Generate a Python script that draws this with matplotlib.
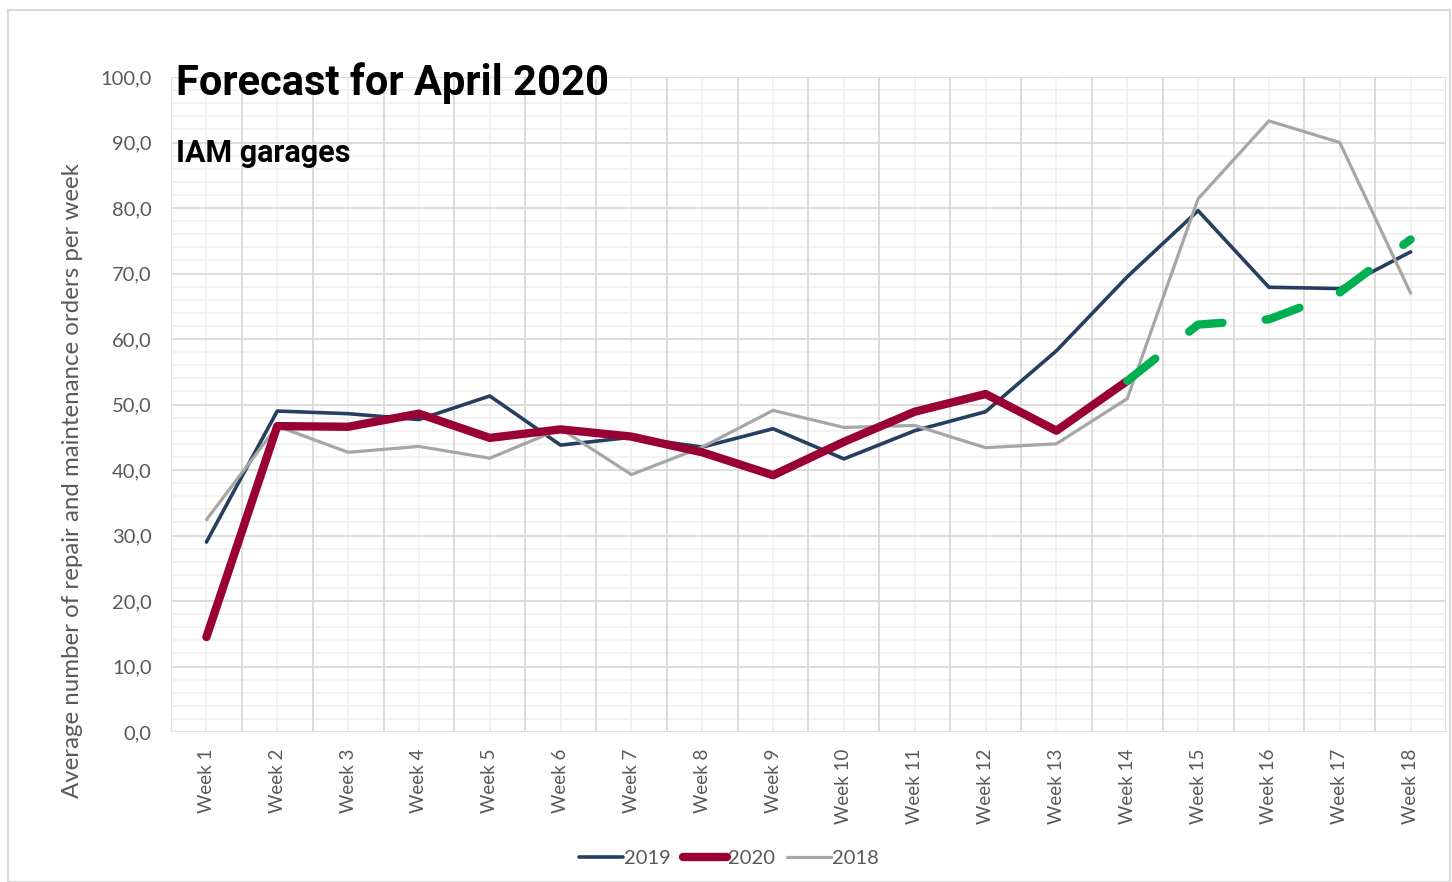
import matplotlib
matplotlib.use("Agg")
import matplotlib.pyplot as plt
from matplotlib.patches import Rectangle
from matplotlib.lines import Line2D
import matplotlib.font_manager as fm

weeks = [f"Week {i}" for i in range(1, 19)]
y2019 = [29.0, 49.0, 48.6, 47.7, 51.3, 43.8, 45.0, 43.5, 46.3, 41.7, 46.0, 48.9, 58.2, 69.5, 79.6, 67.9, 67.7, 73.3]
y2020 = [14.5, 46.7, 46.6, 48.6, 44.9, 46.2, 45.1, 42.7, 39.2, 44.3, 48.9, 51.6, 46.0, 53.6]
y2018 = [32.4, 46.7, 42.7, 43.6, 41.8, 46.3, 39.3, 43.5, 49.1, 46.5, 46.8, 43.4, 44.0, 50.9, 81.4, 93.3, 90.0, 67.0]
forecast_weeks = ["Week 14", "Week 15", "Week 16", "Week 17", "Week 18"]
forecast = [53.6, 62.2, 63.0, 67.1, 75.2]
y_ticks = [0, 10, 20, 30, 40, 50, 60, 70, 80, 90, 100]

c2019 = "#243f60"
c2020 = "#990033"
c2018 = "#a6a6a6"
cfc = "#00b050"
tick_col = "#595959"

avail = {f.name for f in fm.fontManager.ttflist}
title_font = [f for f in ["Roboto", "DejaVu Sans"] if f in avail]
body_font = [f for f in ["Lato", "Open Sans", "DejaVu Sans"] if f in avail]

fig = plt.figure(figsize=(14.52, 8.82), dpi=100)
ax = fig.add_axes([171/1452, 1-732/882, (1446-171)/1452, (732-77)/882])

x = list(range(len(weeks)))
xf = [weeks.index(w) for w in forecast_weeks]

ax.plot(x, y2019, color=c2019, lw=2.6, solid_capstyle="round", solid_joinstyle="round", zorder=3)
ax.plot(x[:len(y2020)], y2020, color=c2020, lw=6.0, solid_capstyle="round", solid_joinstyle="round", zorder=4)
ax.plot(x, y2018, color=c2018, lw=2.3, solid_capstyle="round", solid_joinstyle="round", zorder=3)
ax.plot(xf, forecast, color=cfc, lw=6.0, dashes=(4.3, 5.2), dash_capstyle="round", zorder=5)

ax.set_xlim(-0.5, len(weeks) - 0.5)
ax.set_ylim(0, 100)

ax.set_yticks(y_ticks)
ax.set_yticklabels([f"{v:.1f}".replace(".", ",") for v in y_ticks], fontsize=14.5, color=tick_col, family=body_font)
ax.set_xticks(x)
ax.set_xticklabels(weeks, rotation=90, fontsize=13.5, color=tick_col, family=body_font)
ax.tick_params(axis="both", which="both", length=0)
ax.tick_params(axis="x", pad=12)
ax.tick_params(axis="y", pad=14)

# gridlines
for v in range(0, 101, 2):
    if v % 10 == 0:
        ax.axhline(v, color="#d9d9d9", lw=1.3, zorder=1)
    else:
        ax.axhline(v, color="#efefef", lw=1.1, zorder=0.8)
for i in range(len(weeks) + 1):
    ax.axvline(i - 0.5, color="#d9d9d9", lw=1.3, zorder=1)
for i in range(len(weeks)):
    ax.axvline(i, color="#efefef", lw=1.1, zorder=0.8)
for s in ax.spines.values():
    s.set_visible(False)

ax.set_ylabel("Average number of repair and maintenance orders per week", fontsize=17.3,
              color=tick_col, family=body_font)
ax.yaxis.set_label_coords((73 - 171) / 1275, (732 - 481) / 655)
ax.yaxis.label.set_va("center")

fig.text(176/1452, 1-83/882, "Forecast for April 2020", fontsize=30, fontweight="bold",
         family=title_font, color="black", va="center", ha="left")
fig.text(176/1452, 1-153/882, "IAM garages", fontsize=22, fontweight="bold",
         family=title_font, color="black", va="center", ha="left")

handles = [Line2D([], [], color=c2019, lw=2.6, solid_capstyle="round"),
           Line2D([], [], color=c2020, lw=6.0, solid_capstyle="round"),
           Line2D([], [], color=c2018, lw=2.3, solid_capstyle="round")]
leg = fig.legend(handles, ["2019", "2020", "2018"], loc="center", bbox_to_anchor=(729/1452, 1-858/882),
                 ncol=3, frameon=False, handlelength=2.2, handletextpad=0.05, columnspacing=0.6,
                 prop={"family": body_font, "size": 14.5})
for t in leg.get_texts():
    t.set_color(tick_col)

fig.patches.append(Rectangle((8/1452, 0), 1 - 8/1452 - 2/1452, 1 - 10/882, transform=fig.transFigure,
                             fill=False, edgecolor="#d9d9d9", lw=1.5))

fig.savefig("out.png", dpi=100)
